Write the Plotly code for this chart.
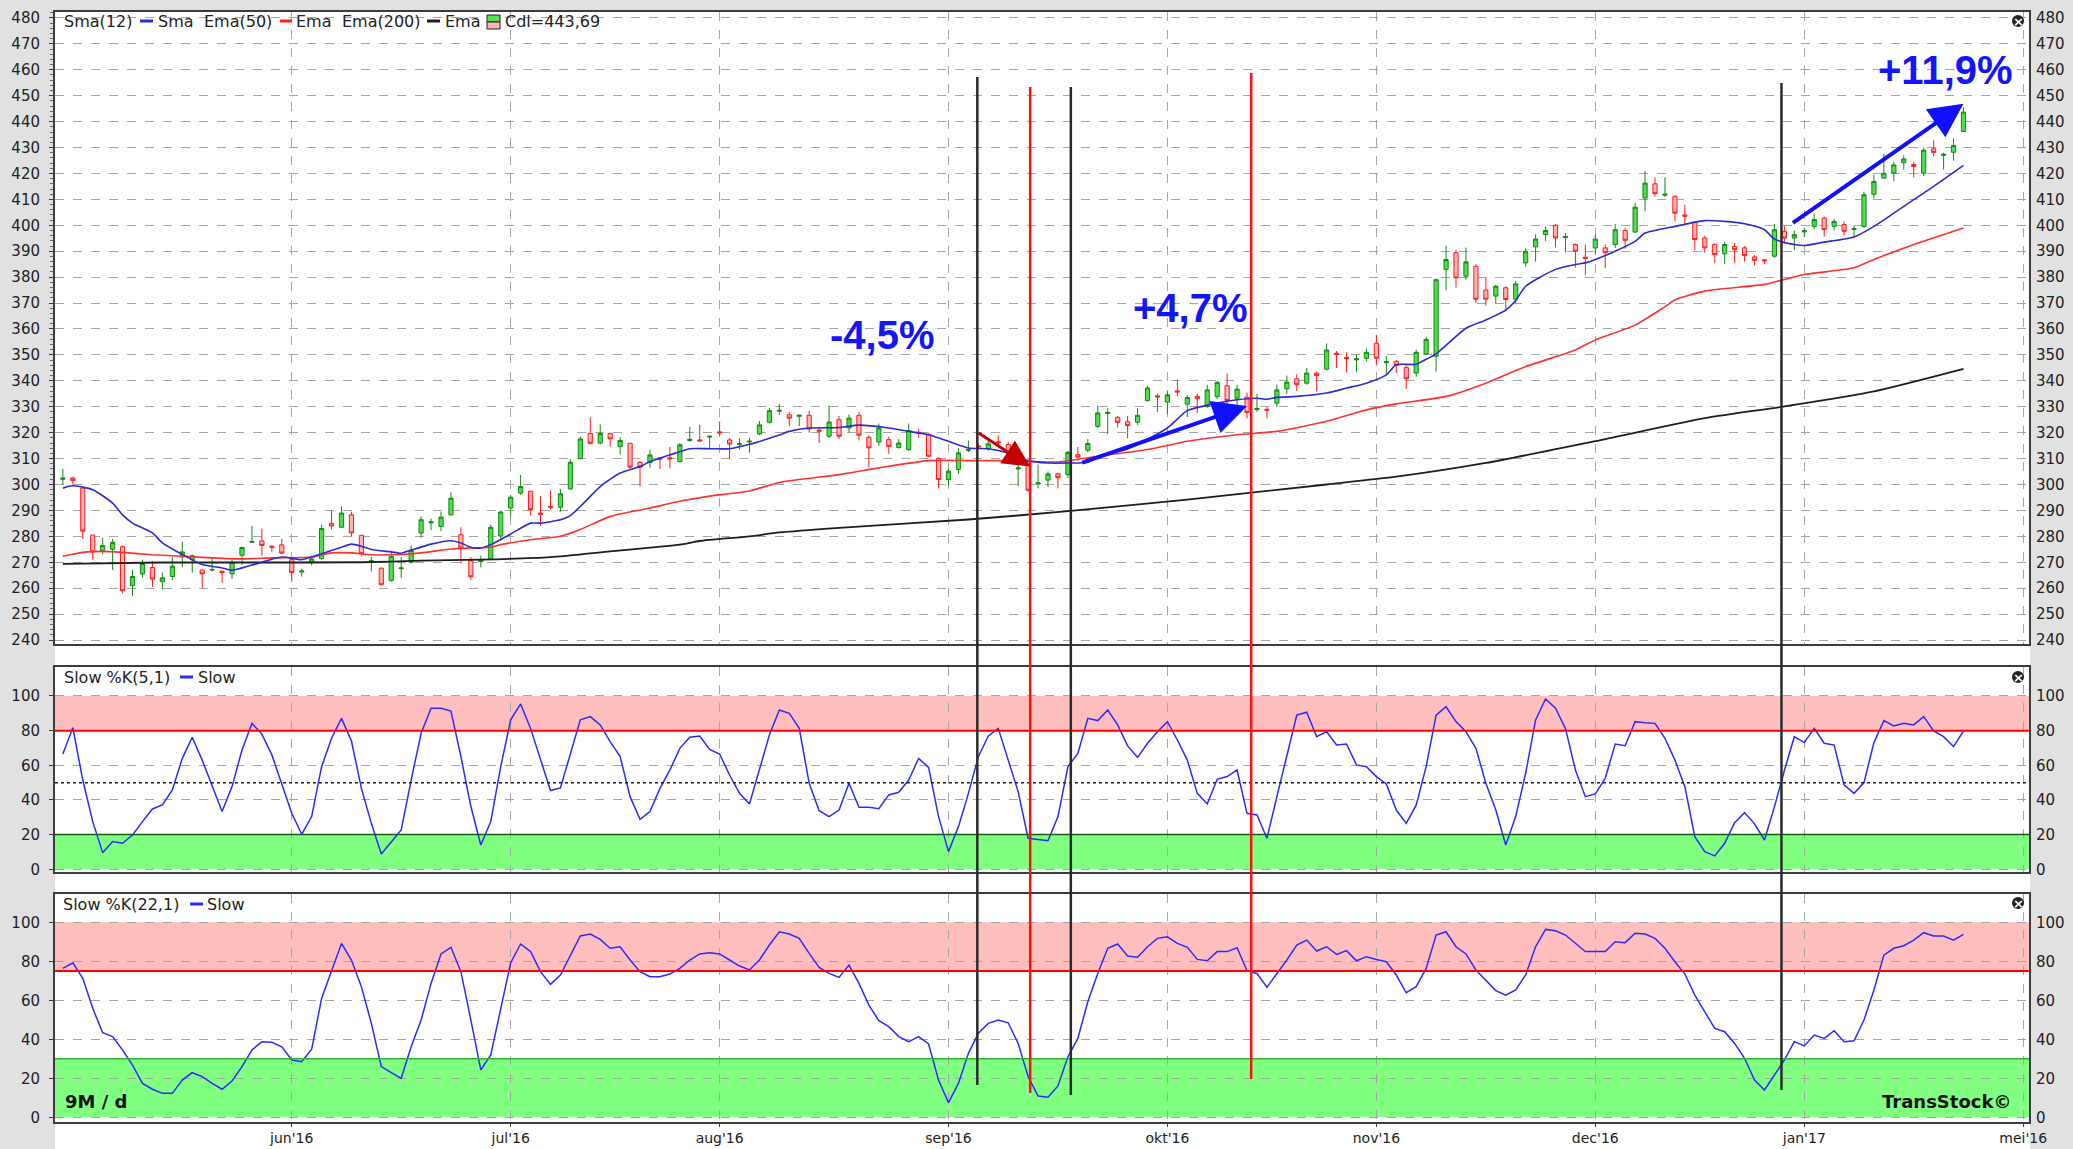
import pandas as pd
import plotly.graph_objects as go

# trading days shown on the axis (weekends and the boxing-day closure removed)
holidays = ["2016-12-26"]
dates = [d for d in pd.bdate_range("2016-04-29", "2017-01-24")
         if d.strftime("%Y-%m-%d") not in holidays]

open_p = [302, 302.5, 298.6, 280.5, 274.5, 275, 276, 261, 265.5, 268,
          262.5, 264.5, 272, 271, 267, 267, 266.5, 265.5, 272.7, 277.7,
          278.2, 276.2, 276.7, 271, 266.2, 270, 271.4, 285, 283.5, 288.3,
          280.4, 270.3, 267.7, 263, 267.5, 270, 281.3, 285.2, 283.8, 288.3,
          280.6, 270.6, 270.2, 271.4, 280.1, 290.9, 296.7, 297.4, 289, 291.6,
          291.2, 298.3, 310, 319.7, 316, 319.7, 314.6, 315.9, 308.5, 308.5,
          310.3, 310.3, 308.8, 317, 317.2, 318.3, 320.3, 317.2, 315.4, 316.4,
          319.5, 324, 328.3, 326.9, 326.3, 326.7, 321, 318.6, 325, 321.8,
          326.7, 318.2, 316.4, 317.3, 314.3, 313.5, 320.2, 319.2, 310.1, 301.9,
          305.8, 313.1, 314.9, 313.8, 316.5, 315.4, 306, 307.4, 300.2, 301.7,
          304.1, 303.8, 311.5, 313.2, 322.4, 327.4, 325.9, 324.2, 324, 332.4,
          334.2, 331.8, 336.1, 331, 334, 330.1, 333.9, 338.1, 333.3, 333.7,
          328.9, 329, 331.4, 336.9, 340.8, 339.1, 343, 344.5, 350.6, 349,
          348.1, 348.7, 354.5, 347, 347.5, 345.1, 343, 350.4, 349.5, 383,
          389.4, 380.4, 384.2, 375, 372.7, 375.9, 371.5, 385.5, 391.7, 396.4,
          400, 395.3, 392.6, 387.7, 391.3, 391.3, 392.6, 398, 397.4, 410.5,
          416, 411.6, 411.2, 404, 401.2, 395.1, 392.6, 389, 391.8, 391.3,
          387.8, 386.7, 388.1, 397.7, 395.1, 397.5, 399.6, 402.8, 399.6, 400.3,
          398.4, 399.6, 412, 418.2, 420.1, 424.2, 423.5, 420.1, 429.5, 427,
          428.2, 436.2]
high_p = [306, 303, 299, 280.5, 279.5, 279, 276.5, 267, 271, 270.5,
          266, 272, 278, 273, 267, 272, 267, 271, 276, 284,
          283, 276.5, 279, 272, 267.5, 272.5, 284.5, 290, 291.5, 289.5,
          280.5, 272, 268, 274, 272, 276.5, 287.7, 286.8, 289.5, 297,
          283.5, 272, 272.5, 284.5, 290, 296, 303.7, 297.5, 295.5, 297.7,
          298.3, 309.8, 318.5, 325.9, 323.2, 320, 318.3, 316, 309, 313.5,
          310.5, 314.5, 316, 322.3, 323, 318.8, 324.3, 318, 317.8, 318,
          324.5, 329.5, 331, 328, 327, 328.5, 322, 330.4, 326.5, 327,
          328, 319, 323.5, 318.5, 317.5, 323.5, 321.5, 320, 310.5, 306,
          314, 317, 316, 317, 319, 316.5, 308.7, 309, 307.7, 305,
          304.5, 313, 314.5, 317.5, 330.5, 329.5, 326.5, 326.5, 329.5, 338,
          335, 336, 340.5, 334.5, 335, 338.5, 340, 342.8, 338.5, 335.5,
          335, 330, 338.5, 342, 342.5, 345, 343.5, 354.4, 351.5, 351,
          350, 352.5, 357.7, 349.5, 348, 346, 352, 357, 379.5, 392,
          390.5, 391.4, 385, 380, 377, 376.5, 378.5, 391, 396.5, 399.5,
          400.5, 397, 393, 392.6, 396.5, 392.6, 400.5, 399, 408.7, 421,
          418.5, 418.5, 411.5, 408, 401.5, 396, 393, 393.5, 393.2, 392,
          388.5, 387, 400.5, 399.7, 398, 399, 404.5, 403.4, 402.5, 401.5,
          400, 413, 419.5, 427.5, 424.5, 427, 424.5, 430, 432.8, 428,
          433.5, 445.5]
low_p = [300, 300, 279, 271, 273, 267, 258, 257, 264, 260.5,
         259.5, 263, 268, 266, 260, 266.5, 262, 263.5, 269, 277.5,
         272.5, 274, 273, 262.5, 264.5, 268.8, 271, 282.7, 283.5, 280,
         272.5, 266.5, 261, 262.5, 264, 269.5, 279.5, 282.4, 282, 288,
         269.5, 263.2, 268, 271, 279, 287.7, 296, 288, 284, 290.5,
         289.5, 298, 309.7, 315.5, 315.5, 314.6, 311.5, 306, 299.3, 306.5,
         306, 306.3, 308.5, 316.5, 316.5, 313.5, 318.5, 309.8, 313.5, 312.3,
         319, 323.5, 326.8, 322.5, 322.5, 320, 316, 318, 317.5, 320,
         317, 306.5, 315, 311.8, 313.8, 313, 318, 310.5, 298.5, 299.5,
         304, 312.5, 313.5, 313, 315.5, 311, 299.4, 297.3, 298.5, 299,
         298.5, 302.5, 309, 312.5, 321.8, 319.4, 322, 317.8, 323, 332,
         328, 327.2, 334, 326, 327.5, 329.5, 333, 330.6, 329, 325.5,
         328, 325.5, 330, 335, 336, 338.5, 335.9, 344, 345, 343.2,
         343.5, 347.5, 346, 342.3, 343, 336.9, 341.5, 350, 343.5, 375,
         376, 379, 370, 369, 370, 367, 370, 384, 386, 394,
         391.5, 389.5, 383.7, 381, 389, 383.6, 391.3, 391, 397, 405.5,
         411, 411, 401.5, 400, 390.4, 389.5, 385.5, 385, 385.5, 386,
         384.6, 385, 387.5, 393, 390.5, 395.5, 398.5, 395.6, 398, 396,
         395, 399, 410.5, 418, 417, 421.5, 418.5, 419, 426.5, 421.5,
         425, 436]
close_p = [302.5, 301.5, 282, 274, 276.5, 277.7, 259, 264.5, 269.5, 263.5,
           264, 268.5, 274, 272.5, 265.5, 267.2, 266, 270, 275.7, 278,
           276.5, 275.8, 273.5, 266, 266.6, 271.3, 283, 284, 289, 281.3,
           273.3, 270.6, 261.3, 272.3, 267.8, 274.5, 286.4, 285.6, 287.4, 294.7,
           275.5, 264.4, 270.7, 283.5, 289.4, 295.1, 299.2, 290.3, 288.5, 291.2,
           296.4, 308.6, 317.6, 315.9, 319.7, 317.6, 317, 306.7, 306.7, 311.4,
           309.8, 309.9, 315.3, 317.4, 316.8, 318.6, 319.9, 315.6, 315.7, 316.7,
           323, 328.5, 328.6, 325.6, 326.7, 321.4, 320.6, 324.1, 318.6, 325.6,
           319, 314.1, 321.8, 314.7, 316, 320.8, 319.8, 310.9, 301.9, 305.1,
           312.2, 313.4, 314.5, 315.7, 316.1, 311.9, 306.4, 297.8, 300.6, 304.1,
           302.6, 312.4, 310.6, 315.8, 327.6, 327.8, 324, 322.7, 326.7, 337.2,
           333.8, 334.6, 335.7, 333.6, 333.1, 336.5, 339.4, 332.4, 336.8, 327.8,
           329.3, 328.6, 336.5, 339.5, 338.5, 343, 342, 351.9, 350.2, 348.5,
           348.5, 351, 348.7, 347.4, 346, 340.8, 351, 356, 379, 386.8,
           379.7, 385.9, 371.5, 371.5, 376.5, 371.4, 377.4, 390, 394.7, 398,
           395.1, 395.7, 390, 387.2, 394.7, 389.4, 398.3, 394.2, 407, 416.3,
           412.2, 412, 404.7, 403.5, 394.5, 391.3, 388.7, 392.6, 390.6, 388.3,
           386.5, 386.3, 398.3, 395.1, 396.4, 397.9, 402.2, 398.3, 401.5, 397.7,
           398.8, 411.8, 416.9, 420.1, 423.3, 425.6, 422.7, 429, 428.1, 427.4,
           430.8, 443.69]

# moving averages (index into dates, value)
sma12_idx = [0, 1, 3, 5, 6, 7, 9, 10, 12, 14, 16, 17, 19, 22, 24, 26, 28, 29, 30, 31,
             33, 34, 35, 37, 39, 40, 41, 42, 43, 45, 47, 48, 50, 51, 52, 54, 56, 58, 59, 61,
             63, 65, 67, 69, 71, 72, 73, 75, 78, 80, 83, 85, 87, 89, 91, 93, 95, 97, 99, 101,
             103, 104, 107, 111, 113, 116, 118, 120, 121, 122, 124, 127, 129, 131, 133, 134, 136, 137, 138, 141,
             143, 145, 146, 147, 150, 152, 153, 154, 156, 158, 159, 162, 165, 167, 169, 171, 172, 174, 175, 177,
             180, 182, 184, 186, 188, 191]
sma12_val = [298.6, 299.5, 298, 292.8, 288.3, 285.1, 281.3, 277.5, 273, 269.1, 267.8, 266.9, 268.9, 272, 271, 273.3, 275.8, 277, 276.2, 274.9,
             274, 273.5, 274.7, 277, 278.3, 277.4, 275.8, 275.5, 276.8, 280.9, 285.1, 285.1, 286.4, 288, 291.5, 299.2, 304.4, 306.9, 308.8, 311.4,
             313.8, 313.8, 313.8, 315.5, 317.8, 319.1, 320.5, 321.8, 322, 322.9, 321.8, 320.5, 319.2, 316.7, 314.1, 313.8, 312.2, 309.2, 308.3, 308.3,
             308.6, 310.9, 313.7, 321.8, 328.5, 331.4, 332.7, 333.3, 332.9, 333.6, 334, 335.3, 337.2, 339.1, 342.3, 346.2, 346.4, 348.3, 350.4, 360.3,
             363.5, 367.3, 371, 376.5, 383, 384.9, 385.5, 386.8, 390, 393.8, 397, 399.6, 401.8, 401.5, 400.6, 398.3, 394.7, 392.6, 392.2, 393.5,
             395.5, 399.6, 404.7, 409.9, 415, 423.1]
ema50_idx = [0, 2, 4, 6, 9, 12, 15, 18, 21, 25, 27, 29, 31, 34, 36, 39, 41, 43, 44, 47,
             50, 52, 55, 59, 62, 65, 69, 72, 78, 82, 87, 91, 95, 100, 104, 109, 113, 118, 122, 127,
             131, 134, 139, 143, 147, 152, 154, 158, 161, 162, 165, 171, 173, 175, 180, 182, 186, 191]
ema50_val = [272.3, 273.8, 274.2, 273.8, 272.9, 272.3, 271.7, 271.3, 271.7, 272, 273.6, 273.6, 272.9, 273, 273.6, 275.1, 275.5, 275.8, 276.8, 278.7,
             280, 282.6, 287.7, 290.9, 293.5, 295.5, 297.5, 300.8, 303.8, 306.4, 309.2, 309.2, 309.2, 308.7, 310.9, 313.5, 316.7, 319.2, 320.5, 324.4,
             328.8, 331.1, 334, 339.1, 345.5, 351.9, 355.8, 361.5, 368.6, 371.2, 374.6, 377.2, 379.1, 381, 383.6, 386.8, 392.6, 399]
ema200_idx = [0, 10, 18, 30, 36, 42, 49, 55, 62, 64, 69, 72, 78, 91, 101, 113, 127, 134, 143, 154,
              165, 173, 182, 191]
ema200_val = [269.4, 269.9, 269.9, 270, 270.6, 271, 272, 274.2, 276.8, 278.2, 280, 281.5, 283.3, 286.5, 289.7, 294.2, 300, 303, 308.3, 316.7,
              325.6, 330.1, 335.9, 344.6]

# slow stochastics
stoch5 = [66.5, 81.7, 51.5, 27.5, 9.6, 16, 15, 19.8, 27.5, 34.8,
          37.1, 45.8, 64, 76.2, 63, 47.7, 33.3, 47.7, 68.8, 84.2,
          78, 66, 49.6, 32.3, 20.2, 30.4, 59.2, 75.6, 87.1, 74,
          46.7, 26.5, 8.8, 16, 22.7, 51.5, 78.5, 92.9, 92.9, 91.3,
          65, 36.2, 14, 27.5, 59.2, 86.2, 95.4, 81.3, 63, 45.4,
          46.9, 66.9, 86.2, 88.1, 83.3, 73.7, 65, 41.9, 28.8, 33.3,
          46.7, 57.3, 69.8, 76.2, 76.9, 69.2, 66.5, 54.4, 43.8, 37.7,
          57.3, 77.5, 91.9, 90, 81.3, 49.6, 33.8, 30.4, 34.2, 49.6,
          35.8, 35.8, 35, 42.9, 44.4, 51.5, 64, 58.8, 30.4, 10.2,
          24.6, 43.8, 65, 76.9, 81.3, 63, 44.8, 17.9, 17.3, 16.5,
          30.4, 59.2, 66.9, 87.1, 85.8, 91.9, 83.3, 71.2, 64.6, 72.7,
          79.4, 85.2, 74.6, 63, 43.8, 37.7, 51.9, 53.5, 57.3, 32.3,
          31.3, 17.9, 41.9, 66, 89, 90.6, 76.5, 79.4, 71.7, 72.3,
          60.2, 59.2, 53.5, 49.2, 34.2, 26.5, 37, 59.2, 89, 93.8,
          85.2, 79.4, 69.8, 49.6, 34.2, 14, 30.4, 55.4, 86.2, 98.3,
          92.9, 81.3, 57.3, 41.9, 43.5, 52.5, 72.3, 71.3, 85.2, 84.6,
          84.2, 75.6, 63, 47.7, 18.8, 10.2, 7.7, 15, 26.9, 32.7,
          26.2, 16.9, 36, 57, 76.5, 73.1, 81.3, 72.7, 71.7, 48.7,
          43.8, 50, 73.1, 85.8, 82.7, 84.2, 83.3, 88.1, 79.8, 76.5,
          70.8, 79.8]
stoch22 = [76.4, 79.3, 71.3, 55.9, 43.4, 41.4, 34.5, 26.8, 17.4, 14.4,
           12.3, 12.3, 19.1, 22.9, 20.9, 17.4, 14.4, 18.6, 26, 34.5,
           38.8, 38.5, 36.2, 29.4, 28.5, 34.9, 61, 75.6, 89.2, 80.7,
           67, 48.2, 26, 22.9, 20, 36.2, 49.9, 68.7, 83.8, 87.2,
           74.7, 49.9, 24.3, 32, 55.9, 79.3, 88.9, 85, 74.7, 68.2,
           73, 83.2, 93, 94, 91.3, 86.7, 87.5, 80.7, 74.7, 72.1,
           72.1, 73.5, 76.4, 80.7, 83.8, 84.4, 83.8, 80.7, 77.6, 75.6,
           80.7, 88.4, 95.2, 94, 91.8, 84.1, 76.9, 73.8, 71.8, 78.1,
           68.7, 57.6, 49.6, 46.5, 41.4, 38.8, 41.4, 37.6, 19.1, 7.5,
           17.4, 32.8, 43.1, 48.2, 49.9, 48.5, 37.9, 20.9, 10.9, 10.3,
           16.1, 31.1, 40.5, 59.3, 73.8, 86.7, 88.9, 82.7, 82.1, 87.5,
           91.8, 92.6, 89.2, 87.2, 81, 80.3, 85, 85, 87, 75.2,
           73.8, 66.7, 73.5, 80.7, 88.4, 90.9, 85.3, 87.5, 83.6, 85.5,
           80.3, 82.4, 81, 79.8, 73, 63.9, 67, 76.4, 93.5, 95.2,
           87.5, 83.8, 75.6, 70.4, 65, 62.7, 65.3, 73, 87.5, 96.4,
           95.7, 93.5, 89.2, 85, 85, 85, 90.1, 89.6, 94.4, 94,
           91.8, 86.7, 79.8, 73.5, 62.7, 54.2, 45.6, 43.9, 37.9, 30.3,
           19.1, 14, 21.7, 29.4, 38.8, 36.6, 42.2, 40.5, 44.4, 38.8,
           39.3, 49.9, 65.3, 83.2, 86.7, 88, 90.9, 94.7, 93, 93,
           90.9, 93.8]

month_ticks = ["2016-06-01", "2016-07-01", "2016-08-01", "2016-09-01", "2016-10-03",
               "2016-11-01", "2016-12-01", "2017-01-02", "2017-02-01"]
month_labels = ["jun'16", "jul'16", "aug'16", "sep'16", "okt'16",
                "nov'16", "dec'16", "jan'17", "mei'16"]
price_ticks = list(range(240, 490, 10))
stoch_ticks = [0, 20, 40, 60, 80, 100]

# ---- page geometry (pixels -> paper fractions)
W, H = 2073, 1149
ML, MR, MT, MB = 55, 44, 12, 27
PW, PH = W - ML - MR, H - MT - MB


def px(x):
    return (x - ML) / PW


def py(y):
    return (H - MB - y) / PH


FONT = "DejaVu Sans"
GRID = "#a6a6a6"
BORDER = "#3c3c3c"
x_range = ["2016-04-28 05:00", "2017-02-01 14:00"]

fig = go.Figure()

fig.add_trace(go.Scatter(x=[dates[i] for i in ema200_idx], y=ema200_val, mode="lines",
                         line=dict(color="#1e1e1e", width=1.8, shape="spline", smoothing=0.6),
                         hoverinfo="skip"))
fig.add_trace(go.Scatter(x=[dates[i] for i in ema50_idx], y=ema50_val, mode="lines",
                         line=dict(color="#ff3030", width=1.6, shape="spline", smoothing=0.6),
                         hoverinfo="skip"))
fig.add_trace(go.Scatter(x=[dates[i] for i in sma12_idx], y=sma12_val, mode="lines",
                         line=dict(color="#2c2cd0", width=1.6, shape="spline", smoothing=0.6),
                         hoverinfo="skip"))
fig.add_trace(go.Candlestick(
    x=dates, open=open_p, high=high_p, low=low_p, close=close_p,
    increasing=dict(fillcolor="#4fdc4f", line=dict(color="#138a13", width=1)),
    decreasing=dict(fillcolor="#ffb4b4", line=dict(color="#ff1a1a", width=1)),
    whiskerwidth=0))

fig.add_trace(go.Scatter(x=dates, y=stoch5, mode="lines", xaxis="x2", yaxis="y2",
                         line=dict(color="#2b2bff", width=1.5), hoverinfo="skip"))
fig.add_trace(go.Scatter(x=dates, y=stoch22, mode="lines", xaxis="x3", yaxis="y3",
                         line=dict(color="#2b2bff", width=1.5), hoverinfo="skip"))

# invisible traces so that the right-hand value axes get drawn
for xa, ya, v in [("x", "y4", 300), ("x2", "y5", 50), ("x3", "y6", 50)]:
    fig.add_trace(go.Scatter(x=[dates[0]], y=[v], xaxis=xa, yaxis=ya, mode="markers",
                             marker=dict(opacity=0), hoverinfo="skip"))


def x_axis(anchor, labels):
    return dict(type="date", range=x_range, anchor=anchor, domain=[0, 1], automargin=False,
                rangebreaks=[dict(bounds=["sat", "mon"]), dict(values=holidays)],
                tickmode="array", tickvals=month_ticks, ticktext=month_labels,
                showticklabels=labels, ticks="outside" if labels else "", ticklen=3,
                tickcolor=BORDER, tickfont=dict(family=FONT, size=14, color="#222"),
                ticklabelstandoff=-1,
                showgrid=True, gridcolor=GRID, griddash="dash", gridwidth=1,
                showline=True, mirror=True, linecolor=BORDER, linewidth=2,
                zeroline=False, rangeslider=dict(visible=False), fixedrange=True)


def y_axis(domain, rng, ticks, right=False, overlay=None, anchor="x"):
    d = dict(range=rng, tickmode="array", tickvals=ticks, anchor=anchor, automargin=False,
             tickfont=dict(family=FONT, size=15, color="#222"), zeroline=False,
             fixedrange=True, ticklabelstandoff=6)
    if right:
        d.update(overlaying=overlay, side="right", showgrid=False, showline=False, ticks="")
    else:
        d.update(domain=domain, showgrid=True, gridcolor=GRID, griddash="dash", gridwidth=1,
                 showline=True, mirror=True, linecolor=BORDER, linewidth=2,
                 ticks="outside", ticklen=4, tickcolor=BORDER)
    return d


dom_top = [py(644), 1.0]
dom_mid = [py(871.7), py(666.7)]
dom_bot = [0.0, py(894.3)]
rng_top = [238.46, 482.3]
rng_mid = [-1.4, 116.9]
rng_bot = [-2.4, 114.4]

top_y = y_axis(dom_top, rng_top, price_ticks)
top_y["minor"] = dict(dtick=2, ticks="outside", ticklen=3, tickcolor="#666", showgrid=False)

fig.update_layout(
    width=W, height=H,
    margin=dict(l=ML, r=MR, t=MT, b=MB, autoexpand=False),
    paper_bgcolor="white", plot_bgcolor="white",
    showlegend=False, hovermode=False, boxgap=0.4,
    font=dict(family=FONT, size=15, color="#222"),
    xaxis=x_axis("y", False),
    xaxis2=x_axis("y2", False),
    xaxis3=x_axis("y3", True),
    yaxis=top_y,
    yaxis2=y_axis(dom_mid, rng_mid, stoch_ticks, anchor="x2"),
    yaxis3=y_axis(dom_bot, rng_bot, stoch_ticks, anchor="x3"),
    yaxis4=y_axis(None, rng_top, price_ticks, right=True, overlay="y", anchor="x"),
    yaxis5=y_axis(None, rng_mid, stoch_ticks, right=True, overlay="y2", anchor="x2"),
    yaxis6=y_axis(None, rng_bot, stoch_ticks, right=True, overlay="y3", anchor="x3"),
)

shapes = []
# grey frame round the panels
GREY = "#e1e1e1"
for x0, x1, y0, y1 in [(0, ML, 0, H), (W - MR + 1, W, 0, H), (0, W, 0, MT)]:
    shapes.append(dict(type="rect", xref="paper", yref="paper", x0=px(x0), x1=px(x1),
                       y0=py(y1), y1=py(y0), fillcolor=GREY, line=dict(width=0), layer="below"))

# overbought / oversold zones
for ya, lo_band, hi_band, low_col in [("y2", 20, 80, "#155f15"), ("y3", 30, 75, "#2fb52f")]:
    xa = "x2 domain" if ya == "y2" else "x3 domain"
    shapes.append(dict(type="rect", xref=xa, yref=ya, x0=0, x1=1, y0=hi_band, y1=100,
                       fillcolor="#ffbebe", line=dict(width=0), layer="below"))
    shapes.append(dict(type="rect", xref=xa, yref=ya, x0=0, x1=1, y0=0, y1=lo_band,
                       fillcolor="#80ff80", line=dict(width=0), layer="below"))
    shapes.append(dict(type="line", xref=xa, yref=ya, x0=0, x1=1, y0=hi_band, y1=hi_band,
                       line=dict(color="#ff0000", width=2)))
    shapes.append(dict(type="line", xref=xa, yref=ya, x0=0, x1=1, y0=lo_band, y1=lo_band,
                       line=dict(color=low_col, width=1.5)))
shapes.append(dict(type="line", xref="x2 domain", yref="y2", x0=0, x1=1, y0=50, y1=50,
                   line=dict(color="#222", width=1.5, dash="dot")))

# signal lines across all three panels
for xd, col, ytop, ybot in [("2016-09-05 21:30", "#2a2a2a", 77, 1085),
                            ("2016-09-13 05:00", "#ff1010", 87, 1093),
                            ("2016-09-19 07:00", "#2a2a2a", 87, 1095),
                            ("2016-10-13 10:00", "#ff1010", 73, 1079),
                            ("2016-12-28 17:00", "#2a2a2a", 83, 1090)]:
    shapes.append(dict(type="line", xref="x", yref="paper", x0=xd, x1=xd,
                       y0=py(ybot), y1=py(ytop), line=dict(color=col, width=2.5)))

# legend line samples
for x0, x1, yy, col in [(140, 153, 21, "#2c2cd0"), (280, 292, 21, "#ff2020"), (427, 440, 21, "#1e1e1e"),
                        (180, 193, 677, "#2b2bff"), (190, 203, 904, "#2b2bff")]:
    shapes.append(dict(type="line", xref="paper", yref="paper", x0=px(x0), x1=px(x1),
                       y0=py(yy), y1=py(yy), line=dict(color=col, width=3)))

# candle legend icon
shapes.append(dict(type="rect", xref="paper", yref="paper", x0=px(487), x1=px(500),
                   y0=py(22), y1=py(15), fillcolor="#55e055", line=dict(color="#222", width=1)))
shapes.append(dict(type="rect", xref="paper", yref="paper", x0=px(487), x1=px(500),
                   y0=py(29), y1=py(22), fillcolor="#ffb4b4", line=dict(color="#222", width=1)))

# close buttons
for cy in (21, 677, 903):
    shapes.append(dict(type="circle", xref="paper", yref="paper", x0=px(2012), x1=px(2024),
                       y0=py(cy + 6), y1=py(cy - 6), fillcolor="#222", line=dict(width=0)))

fig.update_layout(shapes=shapes)

ann = []


def label(x, y, text, size=16, color="#222", bold=False, xanchor="left", family=FONT):
    ann.append(dict(xref="paper", yref="paper", x=px(x), y=py(y), text=text,
                    showarrow=False, xanchor=xanchor, yanchor="middle",
                    font=dict(family=family, size=size, color=color,
                              weight="bold" if bold else "normal")))


# panel legends
label(62, 21, "Sma(12)")
label(156, 21, "Sma")
label(202, 21, "Ema(50)")
label(294, 21, "Ema")
label(340, 21, "Ema(200)")
label(443, 21, "Ema")
label(503, 21, "Cdl=443,69")
label(62, 677, "Slow %K(5,1)")
label(196, 677, "Slow")
label(61, 904, "Slow %K(22,1)")
label(205, 904, "Slow")
label(63, 1101, "9M / d", size=18, bold=True, color="#111")
label(2013, 1101, "TransStock©", size=18, bold=True, color="#111", xanchor="right")
for cy in (21, 677, 903):
    label(2018, cy, "×", size=13, color="white", bold=True, xanchor="center")

# performance labels
for x, y, t in [(882, 335, "-4,5%"), (1190, 308, "+4,7%"), (1945, 70, "+11,9%")]:
    label(x, y, t, size=40, bold=True, color="#1414ff", xanchor="center", family="Liberation Sans")

# trend arrows
for (x0, y0), (x1, y1), col, w, sz in [(("2016-09-05 21:00", 320.2), ("2016-09-13 05:00", 306.9), "#c40000", 3, 1.8),
                                        (("2016-09-20 07:00", 308.2), ("2016-10-13 00:00", 330.3), "#1010ff", 4, 1.7),
                                        (("2016-12-29 17:00", 400.5), ("2017-01-24 00:00", 446.9), "#1010ff", 4, 1.7)]:
    ann.append(dict(xref="x", yref="y", axref="x", ayref="y", x=x1, y=y1, ax=x0, ay=y0,
                    showarrow=True, arrowhead=2, arrowsize=sz, arrowwidth=w,
                    arrowcolor=col, text="", standoff=0, startstandoff=0))

fig.update_layout(annotations=ann)

# the page's default 8px body margin would push the fixed-size figure off the window
fig.write_html("out.html", config={"displayModeBar": False},
               post_script="document.body.style.margin='0';document.body.style.overflow='hidden';")
